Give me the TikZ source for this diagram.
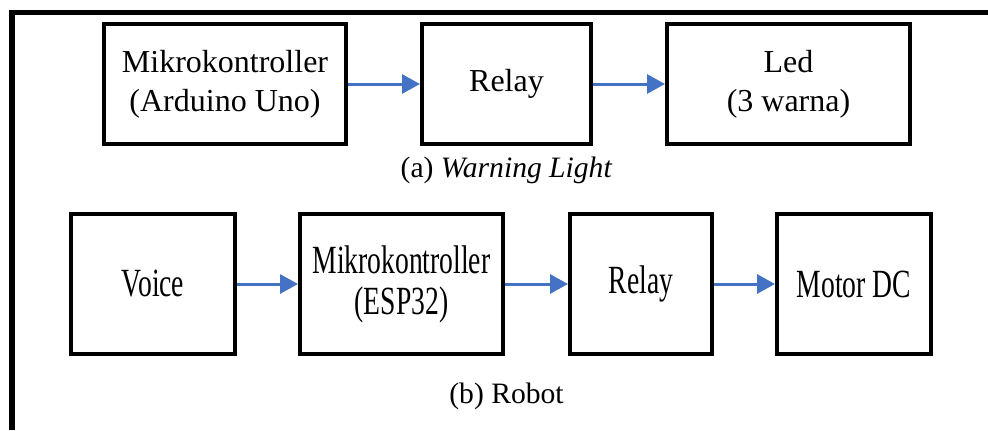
\documentclass[tikz,border=0pt]{standalone}
\usepackage{fontspec}
\setmainfont{Liberation Serif}
\newfontfamily\condensedserif[FakeStretch=0.69]{Liberation Serif}
\usepackage{tikz}
\usetikzlibrary{positioning,arrows.meta}
\definecolor{arrblue}{RGB}{68,114,196}

\begin{document}
\begin{tikzpicture}[
  blk/.style={rectangle, draw=black, line width=2pt, fill=white,
    inner sep=2pt, align=center},
  blkA/.style={blk, minimum height=60pt, font=\fontsize{16}{19.5}\selectfont},
  blkB/.style={blk, minimum height=70pt,
    font=\condensedserif\fontsize{20}{20.5}\selectfont},
  flow/.style={-{Triangle[length=9pt,width=9.5pt]}, arrblue, line width=1.5pt},
  captxt/.style={inner sep=0pt, font=\fontsize{14.8}{17}\selectfont},
]
\useasboundingbox (0,0) rectangle (494pt,215pt);

% --- Frame (top and left edge) ---
\draw[line width=2.8pt] (6pt,0) -- (6pt,208.75pt) -- (494pt,208.75pt);

% --- (a) Warning Light ---
\node[blkA, minimum width=121pt] (mcuA) at (112.5pt,173pt) {Mikrokontroller\\(Arduino Uno)};
\node[blkA, minimum width=84.5pt, right=36pt of mcuA] (relayA) {Relay};
\node[blkA, minimum width=121.5pt, right=36pt of relayA] (ledA) {Led\\(3 warna)};

\draw[flow] (mcuA.east) -- (relayA.west);
\draw[flow] (relayA.east) -- (ledA.west);

\node[captxt, below=15.5pt of relayA, anchor=base] (capA) {(a) \textit{Warning Light}};

% --- (b) Robot ---
\node[blkB, minimum width=82pt] (voiceB) at (76.5pt,73pt) {Voice};
\node[blkB, minimum width=101.5pt, right=30.5pt of voiceB] (mcuB) {Mikrokontroller\\(ESP32)};
\node[blkB, minimum width=71pt, right=31.5pt of mcuB] (relayB) {Relay};
\node[blkB, minimum width=77pt, right=30.5pt of relayB] (motorB) {Motor DC};

\draw[flow] (voiceB.east) -- (mcuB.west);
\draw[flow] (mcuB.east) -- (relayB.west);
\draw[flow] (relayB.east) -- (motorB.west);

\node[captxt, anchor=base] (capB) at ([yshift=-113pt]capA.base) {(b) Robot};
\end{tikzpicture}
\end{document}
